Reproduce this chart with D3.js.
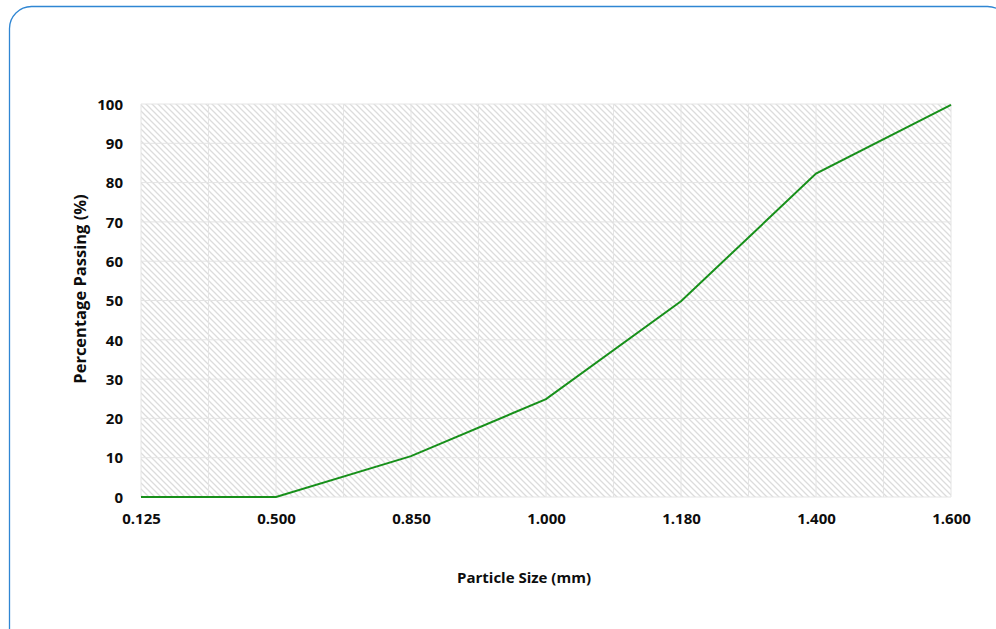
<!DOCTYPE html>
<html lang="en">
<head>
<meta charset="UTF-8">
<title>Particle size distribution</title>
<script src="https://d3js.org/d3.v7.min.js"></script>
<style>
  body { margin: 0; background: #fff; }
  text { font-family: "Open Sans", "Noto Sans", sans-serif; font-weight: bold; fill: #0d0d0d; }
</style>
</head>
<body>
<script>
// sieve sizes (category axis) and percent passing
const sizes = ["0.125", "0.500", "0.850", "1.000", "1.180", "1.400", "1.600"];
const passing = [0, 0, 10.4, 24.9, 49.8, 82.3, 99.8];
const yTicks = [0, 10, 20, 30, 40, 50, 60, 70, 80, 90, 100];

const width = 996, height = 629;
const plotL = 141, plotR = 951, plotT = 104, plotB = 497;

const svg = d3.select("body").append("svg")
  .attr("width", width).attr("height", height);

// hatch for the plot area
const defs = svg.append("defs");
const pat = defs.append("pattern")
  .attr("id", "hatch").attr("patternUnits", "userSpaceOnUse")
  .attr("width", 6).attr("height", 6);
pat.append("path")
  .attr("d", "M-1,-1 L7,7 M-1,5 L1,7 M5,-1 L7,1")
  .attr("stroke", "#dcdcdc").attr("stroke-width", 1.3);

// card outline
svg.append("rect")
  .attr("x", 9.5).attr("y", 6.5)
  .attr("width", 1000).attr("height", 660)
  .attr("rx", 22).attr("fill", "none")
  .attr("stroke", "#2f86d3").attr("stroke-width", 1.3);

const x = d3.scalePoint().domain(sizes).range([plotL, plotR]);
const y = d3.scaleLinear().domain([0, 100]).range([plotB, plotT]);

svg.append("rect")
  .attr("x", plotL).attr("y", plotT)
  .attr("width", plotR - plotL).attr("height", plotB - plotT)
  .attr("fill", "url(#hatch)");

// gridlines: horizontal at ticks, vertical every half category
const step = x.step();
const vLines = d3.range(0, sizes.length * 2 - 1).map(i => plotL + i * step / 2);
svg.append("g").selectAll("line").data(vLines).join("line")
  .attr("x1", d => d).attr("x2", d => d)
  .attr("y1", plotT).attr("y2", plotB)
  .attr("stroke", "#e4e4e4").attr("stroke-width", 1);
svg.append("g").selectAll("line").data(yTicks).join("line")
  .attr("x1", plotL).attr("x2", plotR)
  .attr("y1", d => y(d)).attr("y2", d => y(d))
  .attr("stroke", "#e4e4e4").attr("stroke-width", 1);

// axes (labels only)
const yAxis = svg.append("g")
  .attr("transform", `translate(${plotL - 15},0)`)
  .call(d3.axisLeft(y).tickValues(yTicks).tickSize(0));
yAxis.select(".domain").remove();
yAxis.selectAll("text").attr("font-size", 15).attr("dy", "0.35em");

const xAxis = svg.append("g")
  .attr("transform", `translate(0,${plotB + 13})`)
  .call(d3.axisBottom(x).tickSize(0));
xAxis.select(".domain").remove();
xAxis.selectAll("text").attr("font-size", 15).attr("dy", "0.7em");

// line
svg.append("path")
  .datum(sizes.map((s, i) => [s, passing[i]]))
  .attr("fill", "none").attr("stroke", "#17901a").attr("stroke-width", 2)
  .attr("d", d3.line().x(d => x(d[0])).y(d => y(d[1])));

// axis titles
svg.append("text")
  .attr("x", 524).attr("y", 583)
  .attr("text-anchor", "middle").attr("font-size", 15)
  .text("Particle Size (mm)");
svg.append("text")
  .attr("transform", "translate(86,289) rotate(-90)")
  .attr("text-anchor", "middle").attr("font-size", 16.5)
  .text("Percentage Passing (%)");
</script>
</body>
</html>
